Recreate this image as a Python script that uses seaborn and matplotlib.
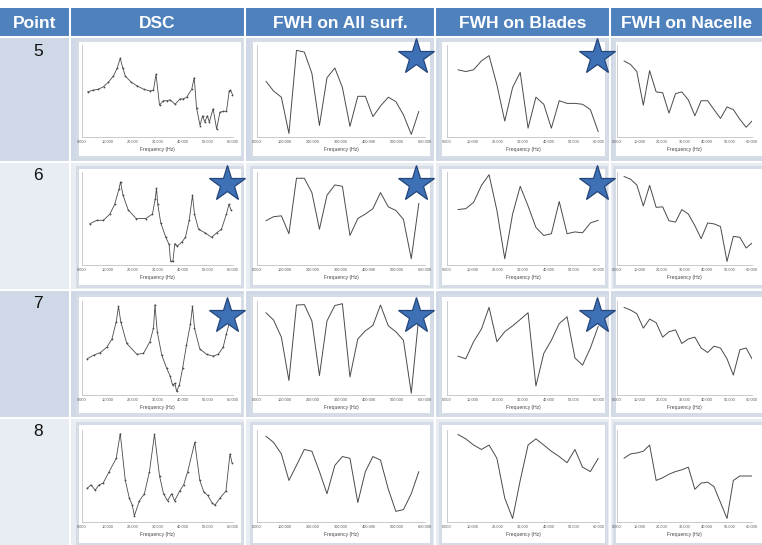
import numpy as np
import pandas as pd
import matplotlib
matplotlib.use("Agg")
import matplotlib.pyplot as plt
import seaborn as sns

# ---------------- data ----------------
columns = ["Point", "DSC", "FWH on All surf.", "FWH on Blades", "FWH on Nacelle"]
points = ["5", "6", "7", "8"]

dsc5_f = [2.2, 4.5, 6.5, 8.6, 10.5, 12.5, 14.0, 15.2, 16.2, 17.2, 19.5, 21.8, 24.5, 27.0, 28.4,
          29.4, 30.8, 32.3, 33.7, 35.0, 37.0, 38.9, 40.2, 41.6, 43.6, 44.6, 45.5, 46.9, 47.9, 48.8,
          49.8, 50.6, 52.1, 53.5, 54.8, 56.1, 57.4, 58.5, 59.0, 59.8]
dsc5_y = [0.49, 0.51, 0.52, 0.55, 0.60, 0.67, 0.76, 0.87, 0.76, 0.67, 0.60, 0.56, 0.52, 0.50, 0.51,
          0.69, 0.34, 0.39, 0.39, 0.40, 0.35, 0.41, 0.41, 0.43, 0.52, 0.65, 0.31, 0.11, 0.22, 0.15,
          0.22, 0.15, 0.30, 0.07, 0.26, 0.27, 0.27, 0.50, 0.51, 0.46]
dsc6_f = [3.0, 5.9, 8.5, 11.1, 13.0, 14.7, 15.3, 16.3, 18.3, 21.5, 25.4, 28.0, 29.1, 29.6, 30.1,
          31.3, 33.3, 34.6, 35.2, 36.1, 36.9, 37.8, 39.8, 41.1, 42.6, 43.9, 44.7, 46.3, 48.9, 51.5,
          53.5, 55.4, 57.4, 58.4, 59.3]
dsc6_y = [0.44, 0.48, 0.48, 0.55, 0.66, 0.83, 0.91, 0.76, 0.60, 0.50, 0.50, 0.55, 0.72, 0.84, 0.66,
          0.45, 0.29, 0.21, 0.02, 0.02, 0.22, 0.19, 0.24, 0.29, 0.48, 0.76, 0.55, 0.38, 0.34, 0.29,
          0.34, 0.38, 0.55, 0.66, 0.59]
dsc7_f = [2.0, 4.6, 7.3, 9.9, 11.9, 13.6, 14.5, 15.4, 17.8, 21.8, 24.4, 27.0, 28.4, 29.0, 29.9,
          31.7, 33.6, 35.0, 36.0, 36.9, 37.6, 38.7, 40.0, 41.5, 43.1, 43.9, 44.7, 46.8, 49.5, 52.1,
          54.1, 56.1, 57.4, 58.6]
dsc7_y = [0.38, 0.42, 0.45, 0.51, 0.60, 0.79, 0.96, 0.79, 0.55, 0.43, 0.44, 0.57, 0.72, 0.98, 0.68,
          0.42, 0.28, 0.19, 0.09, 0.11, 0.02, 0.09, 0.28, 0.53, 0.77, 0.96, 0.72, 0.49, 0.43, 0.41,
          0.43, 0.51, 0.66, 0.78]
dsc8_f = [2.0, 3.6, 5.2, 6.8, 8.4, 10.8, 13.6, 15.2, 17.2, 18.8, 20.0, 20.8, 22.8, 24.8, 26.8,
          28.8, 30.8, 32.4, 34.0, 35.6, 36.8, 38.8, 40.4, 42.0, 44.8, 46.8, 48.4, 50.0, 51.6, 52.8,
          54.8, 57.2, 58.8, 59.6]
dsc8_y = [0.36, 0.40, 0.34, 0.40, 0.42, 0.55, 0.70, 0.98, 0.45, 0.25, 0.17, 0.05, 0.22, 0.30, 0.55,
          0.97, 0.50, 0.30, 0.22, 0.30, 0.22, 0.33, 0.40, 0.55, 0.88, 0.45, 0.32, 0.28, 0.20, 0.17,
          0.25, 0.33, 0.75, 0.65]

all_f = [32, 59, 87, 114, 141, 169, 196, 223, 250, 278, 305, 332, 360, 387, 414, 441, 469, 496,
         523, 551, 578]
all5_y = [0.61, 0.50, 0.43, 0.02, 0.96, 0.94, 0.70, 0.11, 0.65, 0.76, 0.54, 0.10, 0.44, 0.44,
          0.21, 0.33, 0.43, 0.38, 0.23, 0.01, 0.27]
all6_y = [0.475, 0.52, 0.53, 0.33, 0.95, 0.95, 0.79, 0.38, 0.76, 0.875, 0.86, 0.31, 0.50, 0.55,
          0.61, 0.79, 0.63, 0.59, 0.49, 0.05, 0.67]
all7_y = [0.89, 0.81, 0.62, 0.14, 0.975, 0.98, 0.80, 0.195, 0.80, 0.97, 0.99, 0.18, 0.60, 0.69,
          0.75, 0.975, 0.745, 0.68, 0.585, 0.0, 0.85]
all8_y = [0.95, 0.88, 0.75, 0.45, 0.62, 0.80, 0.78, 0.55, 0.30, 0.62, 0.72, 0.70, 0.20, 0.55,
          0.72, 0.68, 0.35, 0.10, 0.12, 0.30, 0.55]

bld_f = [4.3, 7.4, 10.5, 13.6, 16.6, 19.7, 22.8, 25.9, 28.9, 32.0, 35.1, 38.2, 41.2, 44.3, 47.4,
         50.5, 53.5, 56.6, 59.7]
bld5_y = [0.74, 0.72, 0.74, 0.84, 0.90, 0.57, 0.16, 0.54, 0.71, 0.08, 0.43, 0.35, 0.08, 0.39,
          0.36, 0.36, 0.35, 0.29, 0.04]
bld6_y = [0.60, 0.61, 0.68, 0.87, 0.99, 0.59, 0.05, 0.55, 0.86, 0.64, 0.40, 0.31, 0.33, 0.69,
          0.33, 0.35, 0.34, 0.45, 0.48]
bld7_y = [0.41, 0.38, 0.57, 0.71, 0.95, 0.57, 0.68, 0.745, 0.815, 0.89, 0.08, 0.44, 0.585, 0.77,
          0.845, 0.39, 0.31, 0.50, 0.74]
bld8_y = [0.97, 0.92, 0.85, 0.80, 0.85, 0.70, 0.25, 0.02, 0.45, 0.85, 0.92, 0.85, 0.78, 0.72,
          0.65, 0.80, 0.60, 0.55, 0.70]

nac_f = [3.1, 6.0, 8.8, 11.7, 14.5, 17.4, 20.3, 23.1, 26.0, 28.8, 31.7, 34.6, 37.4, 40.3, 43.1,
         46.0, 48.9, 51.7, 54.6, 57.4, 60.0]
nac5_y = [0.84, 0.80, 0.72, 0.34, 0.73, 0.49, 0.48, 0.25, 0.47, 0.49, 0.40, 0.22, 0.39, 0.39,
          0.29, 0.19, 0.32, 0.29, 0.18, 0.09, 0.16]
nac6_y = [0.97, 0.94, 0.875, 0.64, 0.87, 0.625, 0.63, 0.475, 0.46, 0.60, 0.55, 0.42, 0.275, 0.45,
          0.44, 0.41, 0.02, 0.30, 0.29, 0.17, 0.225]
nac7_y = [0.95, 0.92, 0.88, 0.72, 0.82, 0.78, 0.62, 0.68, 0.70, 0.55, 0.60, 0.62, 0.50, 0.45,
          0.52, 0.50, 0.38, 0.20, 0.48, 0.50, 0.38]
nac8_y = [0.70, 0.75, 0.76, 0.78, 0.85, 0.45, 0.48, 0.52, 0.55, 0.57, 0.60, 0.35, 0.42, 0.43,
          0.38, 0.20, 0.02, 0.45, 0.50, 0.50, 0.50]

panels = {
    (0, 0): (dsc5_f, dsc5_y), (0, 1): (all_f, all5_y), (0, 2): (bld_f, bld5_y), (0, 3): (nac_f, nac5_y),
    (1, 0): (dsc6_f, dsc6_y), (1, 1): (all_f, all6_y), (1, 2): (bld_f, bld6_y), (1, 3): (nac_f, nac6_y),
    (2, 0): (dsc7_f, dsc7_y), (2, 1): (all_f, all7_y), (2, 2): (bld_f, bld7_y), (2, 3): (nac_f, nac7_y),
    (3, 0): (dsc8_f, dsc8_y), (3, 1): (all_f, all8_y), (3, 2): (bld_f, bld8_y), (3, 3): (nac_f, nac8_y),
}
starred = [(0, 1), (0, 2), (1, 0), (1, 1), (1, 2), (2, 0), (2, 1), (2, 2)]

khz_ticks = [0, 10, 20, 30, 40, 50, 60]
khz_labels = ["0.000", "10.000", "20.000", "30.000", "40.000", "50.000", "60.000"]
all_ticks = [0, 100, 200, 300, 400, 500, 600]
all_labels = ["0.000", "100.000", "200.000", "300.000", "400.000", "500.000", "600.000"]

# ---------------- layout (pixels) ----------------
W, H = 762, 545
sns.set_style("white")
plt.rcParams["font.family"] = ["Liberation Sans", "DejaVu Sans"]

fig = plt.figure(figsize=(W / 100, H / 100), dpi=100)
bg = fig.add_axes([0, 0, 1, 1], zorder=0)
bg.set_xlim(0, W)
bg.set_ylim(H, 0)
bg.axis("off")

col_edges = [0, 70, 245, 435, 610, W]
row_edges = [37, 162, 290, 418, H]
row_bg = ["#cfd8e6", "#e8ecf3", "#cfd8e6", "#e8ecf3"]
header_blue = "#4f81bd"

bg.add_patch(plt.Rectangle((0, 8), W, 29, color=header_blue, lw=0))
for r in range(4):
    bg.add_patch(plt.Rectangle((0, row_edges[r]), W, row_edges[r + 1] - row_edges[r],
                               color=row_bg[r], lw=0))
for x in col_edges[1:-1]:
    bg.plot([x, x], [8, H], color="white", lw=1.5)
for y in row_edges[:-1]:
    bg.plot([0, W], [y, y], color="white", lw=1.5)

for c, name in enumerate(columns):
    xc = (col_edges[c] + col_edges[c + 1]) / 2
    if c == 4:
        xc = 687
    bg.text(xc, 23, name, color="white", fontsize=12.5, fontweight="bold",
            ha="center", va="center")
for r, p in enumerate(points):
    bg.text(38, row_edges[r] + 14, p, fontsize=12.5, ha="center", va="center", color="#111111")

frame_x = [(76, 244), (250, 433), (439, 608), (613, 766)]
frame_y = [(39, 159), (166, 288), (294, 416), (422, 546)]
ax_x = [(82, 233), (257, 425), (447, 599), (617, 752)]
ax_y = [(45, 137), (172, 265), (301, 395), (430, 522)]

for r in range(4):
    for c in range(4):
        fx0, fx1 = frame_x[c]
        fy0, fy1 = frame_y[r]
        bg.add_patch(plt.Rectangle((fx0, fy0), fx1 - fx0, fy1 - fy0, color="#d6dce6", lw=0))
        bg.add_patch(plt.Rectangle((fx0 + 3, fy0 + 3), fx1 - fx0 - 6, fy1 - fy0 - 6,
                                   color="white", lw=0))

for (r, c), (f, v) in panels.items():
    x0, x1 = ax_x[c]
    y0, y1 = ax_y[r]
    ax = fig.add_axes([x0 / W, 1 - y1 / H, (x1 - x0) / W, (y1 - y0) / H], zorder=1)
    ax.patch.set_alpha(0)
    df = pd.DataFrame({"f": f, "v": v})
    if c == 0:
        sns.lineplot(data=df, x="f", y="v", ax=ax, sort=False, estimator=None,
                     color="#4a4a4a", lw=0.6, marker="o", markersize=1.3,
                     markeredgewidth=0)
    else:
        sns.lineplot(data=df, x="f", y="v", ax=ax, sort=False, estimator=None,
                     color="#4a4a4a", lw=0.7)
    if c == 1:
        ax.set_xlim(0, 600)
        ax.set_xticks(all_ticks)
        ax.set_xticklabels(all_labels)
    else:
        ax.set_xlim(0, 60)
        ax.set_xticks(khz_ticks)
        ax.set_xticklabels(khz_labels)
    ax.set_ylim(-0.02, 1.02)
    ax.set_yticks(np.linspace(0, 1, 16))
    ax.set_yticklabels([])
    ax.tick_params(axis="y", length=1.5, width=0.4, color="#888888", pad=0)
    ax.tick_params(axis="x", length=0, labelsize=2.8, labelcolor="#555555", pad=2.5)
    ax.set_xlabel("Frequency (Hz)", fontsize=3.6, color="#444444", labelpad=2)
    ax.set_ylabel("")
    for s in ["top", "right"]:
        ax.spines[s].set_visible(False)
    for s in ["left", "bottom"]:
        ax.spines[s].set_color("#b5b5b5")
        ax.spines[s].set_linewidth(0.5)

ov = fig.add_axes([0, 0, 1, 1], zorder=5)
ov.patch.set_alpha(0)
ov.set_xlim(0, W)
ov.set_ylim(H, 0)
ov.axis("off")
star_x = [227, 416, 597, 597]
star_y = [57, 184, 316]
for (r, c) in starred:
    ov.plot(star_x[c], star_y[r], marker="*", markersize=27, mfc="#3e70b6",
            mec="#24467a", mew=0.9)

fig.savefig("out.png", dpi=100)
